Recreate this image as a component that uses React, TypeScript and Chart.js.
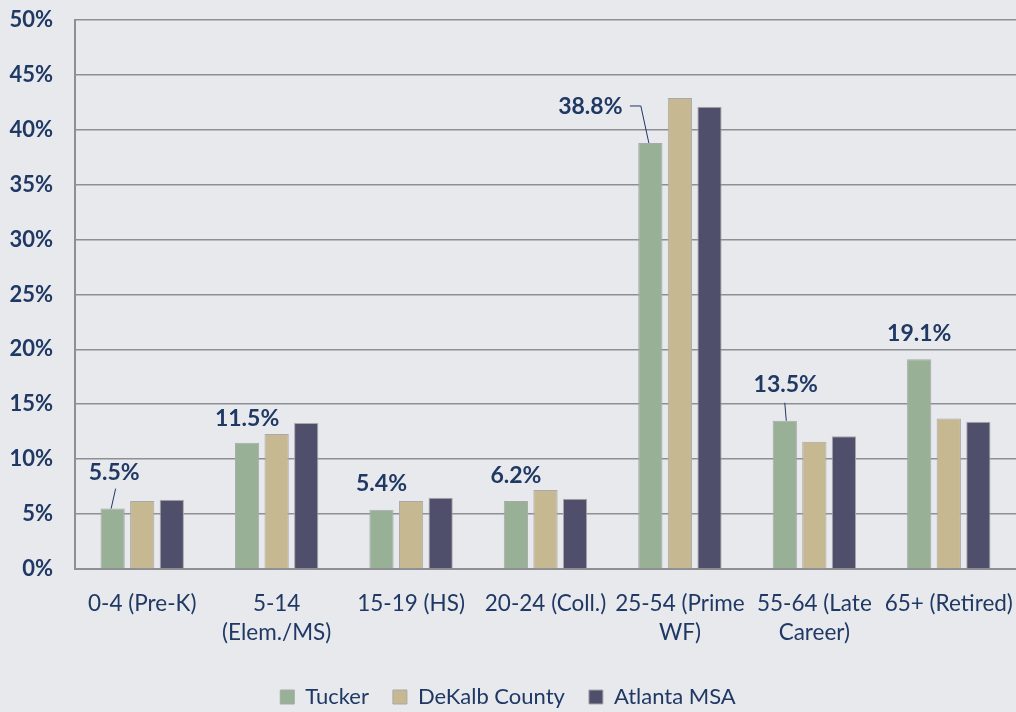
import React, { useEffect, useRef } from "react";
import { Chart, registerables } from "chart.js";

Chart.register(...registerables);

const categories: (string | string[])[] = [
  "0-4 (Pre-K)",
  ["5-14", "(Elem./MS)"],
  "15-19 (HS)",
  "20-24 (Coll.)",
  ["25-54 (Prime", "WF)"],
  ["55-64 (Late", "Career)"],
  "65+ (Retired)",
];

const tucker = [5.5, 11.5, 5.4, 6.2, 38.8, 13.5, 19.1];
const dekalb = [6.2, 12.3, 6.2, 7.2, 42.9, 11.6, 13.7];
const atlanta = [6.3, 13.3, 6.5, 6.4, 42.1, 12.1, 13.4];

const seriesNames = ["Tucker", "DeKalb County", "Atlanta MSA"];
const seriesColors = ["#97b096", "#c6b891", "#4f4f6b"];

const yTicks = [0, 5, 10, 15, 20, 25, 30, 35, 40, 45, 50];

const NAVY = "#1f3864";
const BG = "#e8e9ed";
const GRID = "#8e8f94";
const FONT = "Lato, 'Noto Sans', sans-serif";

// label placement relative to the Tucker bar top (dx, dy of label centre), optional leader polyline
const labelPlacement: { dx: number; dy: number; leader?: [number, number][] }[] = [
  { dx: 1.5, dy: -36, leader: [[3, -20], [-1.5, 0]] },
  { dx: 0, dy: -24 },
  { dx: 0, dy: -26 },
  { dx: 0, dy: -25 },
  { dx: -60, dy: -36, leader: [[-20.5, -37], [-9.5, -37], [-1.5, 0]] },
  { dx: 1, dy: -36, leader: [[0, -18], [1.5, 0]] },
  { dx: 0, dy: -26 },
];

const bgPlugin = {
  id: "bgFill",
  beforeDraw(chart: any) {
    const { ctx, width, height } = chart;
    ctx.save();
    ctx.fillStyle = BG;
    ctx.fillRect(0, 0, width, height);
    ctx.restore();
  },
};

const labelPlugin = {
  id: "tuckerLabels",
  afterDatasetsDraw(chart: any) {
    const { ctx } = chart;
    const meta = chart.getDatasetMeta(0);
    ctx.save();
    ctx.font = `bold 23px ${FONT}`;
    ctx.fillStyle = NAVY;
    ctx.textAlign = "center";
    ctx.textBaseline = "middle";
    meta.data.forEach((bar: any, i: number) => {
      const p = labelPlacement[i];
      const x = bar.x;
      const y = bar.y;
      ctx.fillText(tucker[i].toFixed(1) + "%", x + p.dx, y + p.dy);
      if (p.leader) {
        ctx.beginPath();
        ctx.strokeStyle = NAVY;
        ctx.lineWidth = 1;
        p.leader.forEach(([lx, ly], k) => {
          if (k === 0) ctx.moveTo(x + lx, y + ly);
          else ctx.lineTo(x + lx, y + ly);
        });
        ctx.stroke();
      }
    });
    ctx.restore();
  },
};

export default function App() {
  const canvasRef = useRef<HTMLCanvasElement | null>(null);

  useEffect(() => {
    document.body.style.margin = "0";
    document.body.style.background = BG;
    const canvas = canvasRef.current;
    if (!canvas) return;
    const datasets = [tucker, dekalb, atlanta].map((data, i) => ({
      label: seriesNames[i],
      data,
      backgroundColor: seriesColors[i],
      borderColor: "#a9a9ab",
      borderWidth: 1,
      categoryPercentage: 0.66,
      barPercentage: 0.82,
    }));
    const chart = new Chart(canvas, {
      type: "bar",
      data: { labels: categories, datasets },
      options: {
        animation: false,
        responsive: true,
        maintainAspectRatio: false,
        layout: { padding: { top: 20, right: 0, left: 0, bottom: -6 } },
        plugins: {
          legend: {
            position: "bottom",
            labels: {
              boxWidth: 14,
              boxHeight: 14,
              padding: 24,
              color: NAVY,
              font: { family: FONT, size: 22 },
            },
          },
          tooltip: { enabled: false },
        },
        scales: {
          x: {
            grid: { display: false, drawTicks: false },
            border: { display: true, color: GRID, width: 2 },
            ticks: {
              color: NAVY,
              font: { family: FONT, size: 22.5, lineHeight: 1.3 },
              padding: 20,
              maxRotation: 0,
              autoSkip: false,
            },
            afterFit(scale: any) {
              scale.height = 93;
              scale.paddingLeft = 0;
              scale.paddingRight = 0;
            },
          },
          y: {
            min: 0,
            max: 50,
            afterBuildTicks(scale: any) {
              scale.ticks = yTicks.map((v) => ({ value: v }));
            },
            grid: { color: GRID, lineWidth: 1.6, drawTicks: false },
            border: { display: true, color: GRID, width: 2 },
            ticks: {
              color: NAVY,
              font: { family: FONT, size: 22, weight: "bold" },
              padding: 22,
              callback: (v: any) => v + "%",
            },
            afterFit(scale: any) {
              scale.width = 75;
              scale.paddingTop = 0;
              scale.paddingBottom = 0;
            },
          },
        },
      },
      plugins: [bgPlugin, labelPlugin],
    } as any);
    return () => chart.destroy();
  }, []);

  return (
    <div style={{ width: 1016, height: 712, position: "relative" }}>
      <canvas ref={canvasRef} />
    </div>
  );
}
